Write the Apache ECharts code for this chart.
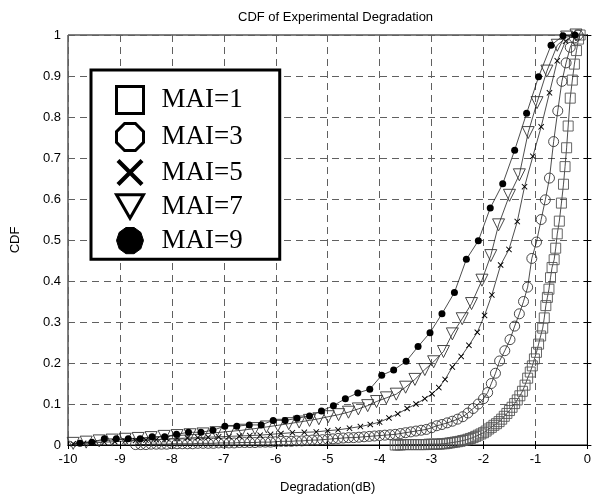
<!DOCTYPE html>
<html><head><meta charset="utf-8">
<script src="https://cdn.jsdelivr.net/npm/echarts@6/dist/echarts.min.js"></script>
<style>html,body{margin:0;padding:0;background:#fff}#c{width:594px;height:501px}</style>
</head><body><div id="c"></div>
<script>
const titleText = 'CDF of Experimental Degradation';
const xName = 'Degradation(dB)';
const yName = 'CDF';
const seriesNames = ['MAI=1', 'MAI=3', 'MAI=5', 'MAI=7', 'MAI=9'];
const xTicks = [-10, 0, 1];   // min, max, interval
const yTicks = [0, 1, 0.1];

const mai1X = [-3.70,-3.65,-3.60,-3.55,-3.50,-3.45,-3.40,-3.35,-3.30,-3.25,
  -3.20,-3.15,-3.10,-3.05,-3.00,-2.95,-2.90,-2.85,-2.80,-2.75,
  -2.70,-2.65,-2.60,-2.55,-2.50,-2.45,-2.40,-2.35,-2.30,-2.25,
  -2.20,-2.15,-2.10,-2.05,-2.00,-1.95,-1.90,-1.85,-1.80,-1.75,
  -1.70,-1.65,-1.60,-1.55,-1.50,-1.45,-1.40,-1.35,-1.30,-1.25,
  -1.20,-1.15,-1.10,-1.06,-1.02,-0.98,-0.94,-0.90,-0.86,-0.83,
  -0.80,-0.77,-0.74,-0.71,-0.68,-0.64,-0.61,-0.58,-0.54,-0.50,
  -0.46,-0.43,-0.40,-0.37,-0.33,-0.29,-0.25,-0.21,-0.17,-0.14];
const mai1Y = [0.000,0.000,0.000,0.001,0.001,0.001,0.001,0.001,0.001,0.001,
  0.001,0.001,0.001,0.002,0.002,0.002,0.002,0.002,0.003,0.003,
  0.004,0.005,0.006,0.007,0.008,0.009,0.011,0.012,0.014,0.016,
  0.018,0.021,0.024,0.027,0.030,0.034,0.039,0.043,0.048,0.052,
  0.057,0.063,0.070,0.077,0.084,0.092,0.101,0.110,0.120,0.131,
  0.146,0.163,0.178,0.193,0.210,0.226,0.246,0.266,0.285,0.310,
  0.340,0.360,0.380,0.408,0.433,0.452,0.480,0.515,0.546,0.590,
  0.636,0.679,0.725,0.778,0.846,0.890,0.929,0.962,0.990,1.000];

const mai3X = [-8.7,-8.6,-8.5,-8.4,-8.3,-8.2,-8.1,-8.0,-7.9,-7.8,
  -7.7,-7.6,-7.5,-7.4,-7.3,-7.2,-7.1,-7.0,-6.9,-6.8,
  -6.7,-6.6,-6.5,-6.4,-6.3,-6.2,-6.1,-6.0,-5.9,-5.8,
  -5.7,-5.6,-5.5,-5.4,-5.3,-5.2,-5.1,-5.0,-4.9,-4.8,
  -4.7,-4.6,-4.5,-4.4,-4.3,-4.2,-4.1,-4.0,-3.9,-3.8,
  -3.7,-3.6,-3.5,-3.4,-3.3,-3.2,-3.1,-3.0,-2.9,-2.8,
  -2.7,-2.6,-2.5,-2.4,-2.3,-2.2,-2.1,-2.0,-1.92,-1.85,
  -1.77,-1.69,-1.59,-1.49,-1.40,-1.31,-1.23,-1.15,-1.07,-0.98,
  -0.89,-0.81,-0.73,-0.65,-0.57,-0.49,-0.41,-0.33,-0.25,-0.18];
const mai3Y = [0.001,0.001,0.001,0.002,0.002,0.002,0.002,0.003,0.003,0.003,
  0.003,0.003,0.004,0.004,0.004,0.004,0.005,0.005,0.005,0.005,
  0.006,0.006,0.006,0.006,0.007,0.007,0.007,0.008,0.009,0.009,
  0.009,0.010,0.010,0.011,0.012,0.012,0.013,0.014,0.015,0.016,
  0.017,0.018,0.018,0.019,0.020,0.021,0.022,0.023,0.024,0.025,
  0.026,0.028,0.030,0.032,0.034,0.036,0.038,0.042,0.047,0.050,
  0.054,0.058,0.063,0.069,0.078,0.089,0.100,0.113,0.128,0.150,
  0.175,0.205,0.230,0.257,0.290,0.320,0.350,0.385,0.455,0.495,
  0.550,0.598,0.651,0.740,0.815,0.887,0.932,0.970,0.993,1.000];

const mai5X = [-9.90,-9.70,-9.50,-9.30,-9.10,-8.90,-8.70,-8.50,-8.30,-8.10,
  -7.90,-7.70,-7.50,-7.30,-7.10,-6.90,-6.70,-6.50,-6.30,-6.10,
  -5.90,-5.68,-5.45,-5.22,-5.00,-4.80,-4.58,-4.37,-4.18,-4.00,
  -3.82,-3.65,-3.47,-3.30,-3.13,-2.99,-2.86,-2.74,-2.60,-2.43,
  -2.28,-2.12,-1.98,-1.84,-1.67,-1.51,-1.35,-1.21,-1.05,-0.89,
  -0.73,-0.58,-0.42,-0.26];
const mai5Y = [0.003,0.004,0.005,0.007,0.008,0.010,0.011,0.012,0.013,0.015,
  0.016,0.017,0.018,0.019,0.020,0.021,0.022,0.023,0.024,0.026,
  0.028,0.030,0.031,0.032,0.035,0.037,0.041,0.045,0.050,0.056,
  0.066,0.076,0.089,0.100,0.113,0.125,0.140,0.160,0.190,0.216,
  0.243,0.275,0.316,0.366,0.439,0.477,0.545,0.630,0.704,0.776,
  0.859,0.937,0.985,1.000];

const mai7X = [-9.90,-9.65,-9.40,-9.15,-8.90,-8.65,-8.40,-8.15,-7.90,-7.65,
  -7.40,-7.15,-6.90,-6.65,-6.40,-6.18,-5.96,-5.75,-5.55,-5.35,
  -5.17,-4.99,-4.79,-4.60,-4.41,-4.23,-4.06,-3.87,-3.68,-3.50,
  -3.32,-3.13,-2.96,-2.77,-2.60,-2.41,-2.23,-2.03,-1.86,-1.71,
  -1.50,-1.31,-1.14,-0.97,-0.78,-0.58,-0.40,-0.22];
const mai7Y = [0.004,0.007,0.010,0.012,0.014,0.016,0.018,0.021,0.023,0.025,
  0.027,0.030,0.033,0.036,0.040,0.044,0.048,0.052,0.056,0.060,
  0.064,0.069,0.074,0.080,0.088,0.096,0.106,0.115,0.124,0.141,
  0.160,0.184,0.203,0.228,0.271,0.308,0.345,0.402,0.462,0.537,
  0.609,0.659,0.762,0.835,0.912,0.975,0.995,1.000];

const mai9X = [-9.77,-9.54,-9.30,-9.07,-8.84,-8.61,-8.38,-8.14,-7.91,-7.68,
  -7.44,-7.21,-6.98,-6.75,-6.51,-6.28,-6.05,-5.82,-5.59,-5.35,
  -5.12,-4.89,-4.66,-4.42,-4.19,-3.96,-3.73,-3.49,-3.26,-3.03,
  -2.80,-2.56,-2.33,-2.10,-1.87,-1.63,-1.40,-1.17,-0.94,-0.70,
  -0.47,-0.24];
const mai9Y = [0.004,0.007,0.015,0.015,0.015,0.015,0.020,0.020,0.026,0.031,
  0.031,0.036,0.046,0.046,0.049,0.049,0.060,0.060,0.065,0.071,
  0.083,0.096,0.113,0.127,0.136,0.170,0.183,0.204,0.240,0.274,
  0.320,0.372,0.453,0.498,0.578,0.637,0.719,0.809,0.898,0.975,
  0.998,1.000];

function pairs(xs, ys) {
  const n = Math.min(xs.length, ys.length);
  const out = [];
  for (let i = 0; i < n; i++) out.push([xs[i], ys[i]]);
  return out;
}

const octagon = 'path://M3,0L7,0L10,3L10,7L7,10L3,10L0,7L0,3Z';
const decagon = 'path://M3.5,0L6.5,0L9,1.8L10,4.8L9,7.9L6.5,9.7L3.5,9.7L1,7.9L0,4.8L1,1.8Z';
const cross = 'path://M0,1.1L1.1,0L5,3.9L8.9,0L10,1.1L6.1,5L10,8.9L8.9,10L5,6.1L1.1,10L0,8.9L3.9,5Z';
const triDown = 'path://M0,0L10,0L5,8.7Z';

const lineSty = { color: '#000', width: 0.7 };
function mk(name, xs, ys, symbol, size, itemStyle) {
  return {
    name: name, type: 'line', data: pairs(xs, ys),
    symbol: symbol, symbolSize: size, showAllSymbol: true,
    lineStyle: lineSty, itemStyle: itemStyle,
    emphasis: { disabled: true }, animation: false
  };
}

const hollow = (c) => ({ color: 'rgba(0,0,0,0)', borderColor: c, borderWidth: 0.9 });

const chart = echarts.init(document.getElementById('c'), null, { renderer: 'canvas' });
const axisFont = { fontFamily: 'Liberation Sans, Arial, sans-serif', fontSize: 13, color: '#000' };
const legIcon = { color: '#fff', borderColor: '#000', borderWidth: 3 };

chart.setOption({
  animation: false,
  backgroundColor: '#fff',
  title: {
    text: titleText, left: 233, top: 6,
    textStyle: { fontFamily: 'Liberation Sans, Arial, sans-serif', fontSize: 13, fontWeight: 'normal', color: '#000' }
  },
  grid: { left: 68, right: 5, top: 35, bottom: 56, show: true, borderColor: '#000', borderWidth: 1, backgroundColor: 'transparent' },
  legend: {
    orient: 'vertical', left: 91, top: 70,
    backgroundColor: '#fff', borderColor: '#000', borderWidth: 3,
    padding: [15, 37, 5, 24],
    itemWidth: 27, itemHeight: 27, itemGap: 7,
    selectedMode: false,
    textStyle: { fontFamily: 'Liberation Serif, Times New Roman, serif', fontSize: 27, color: '#000', padding: [0, 0, 0, 13] },
    data: [
      { name: seriesNames[0], icon: 'rect', itemStyle: legIcon },
      { name: seriesNames[1], icon: octagon, itemStyle: legIcon },
      { name: seriesNames[2], icon: cross, itemStyle: { color: '#000', borderWidth: 0 } },
      { name: seriesNames[3], icon: triDown, itemStyle: legIcon },
      { name: seriesNames[4], icon: decagon, itemStyle: { color: '#000', borderColor: '#000', borderWidth: 1 } }
    ]
  },
  xAxis: [{
    type: 'value', min: xTicks[0], max: xTicks[1], interval: xTicks[2],
    name: xName, nameLocation: 'middle', nameGap: 36,
    nameTextStyle: axisFont,
    axisLine: { show: true, lineStyle: { color: '#000', width: 1 } },
    axisTick: { show: true, inside: true, length: 4, lineStyle: { color: '#000' } },
    axisLabel: Object.assign({ margin: 8 }, axisFont),
    splitLine: { show: true, lineStyle: { color: '#606060', type: [7, 5], width: 1 } }
  }, {
    type: 'value', min: xTicks[0], max: xTicks[1], interval: xTicks[2], position: 'top',
    axisLine: { show: true, lineStyle: { color: '#000' } },
    axisTick: { show: true, inside: true, length: 4, lineStyle: { color: '#000' } },
    axisLabel: { show: false }, splitLine: { show: false }
  }],
  yAxis: [{
    type: 'value', min: yTicks[0], max: yTicks[1], interval: yTicks[2],
    name: yName, nameLocation: 'middle', nameGap: 46, nameRotate: 90,
    nameTextStyle: axisFont,
    axisLine: { show: true, lineStyle: { color: '#000', width: 1 } },
    axisTick: { show: true, inside: true, length: 4, lineStyle: { color: '#000' } },
    axisLabel: Object.assign({ margin: 7 }, axisFont),
    splitLine: { show: true, lineStyle: { color: '#606060', type: [7, 5], width: 1 } }
  }, {
    type: 'value', min: yTicks[0], max: yTicks[1], interval: yTicks[2], position: 'right',
    axisLine: { show: true, lineStyle: { color: '#000' } },
    axisTick: { show: true, inside: true, length: 4, lineStyle: { color: '#000' } },
    axisLabel: { show: false }, splitLine: { show: false }
  }],
  series: [
    mk(seriesNames[0], mai1X, mai1Y, 'rect', 10, hollow('#555')),
    mk(seriesNames[1], mai3X, mai3Y, 'circle', 10, hollow('#333')),
    mk(seriesNames[2], mai5X, mai5Y, cross, 6, { color: '#000', borderWidth: 0 }),
    mk(seriesNames[3], mai7X, mai7Y, triDown, 12, hollow('#333')),
    mk(seriesNames[4], mai9X, mai9Y, 'circle', 7, { color: '#000', borderWidth: 0 })
  ]
});
</script>
</body></html>
